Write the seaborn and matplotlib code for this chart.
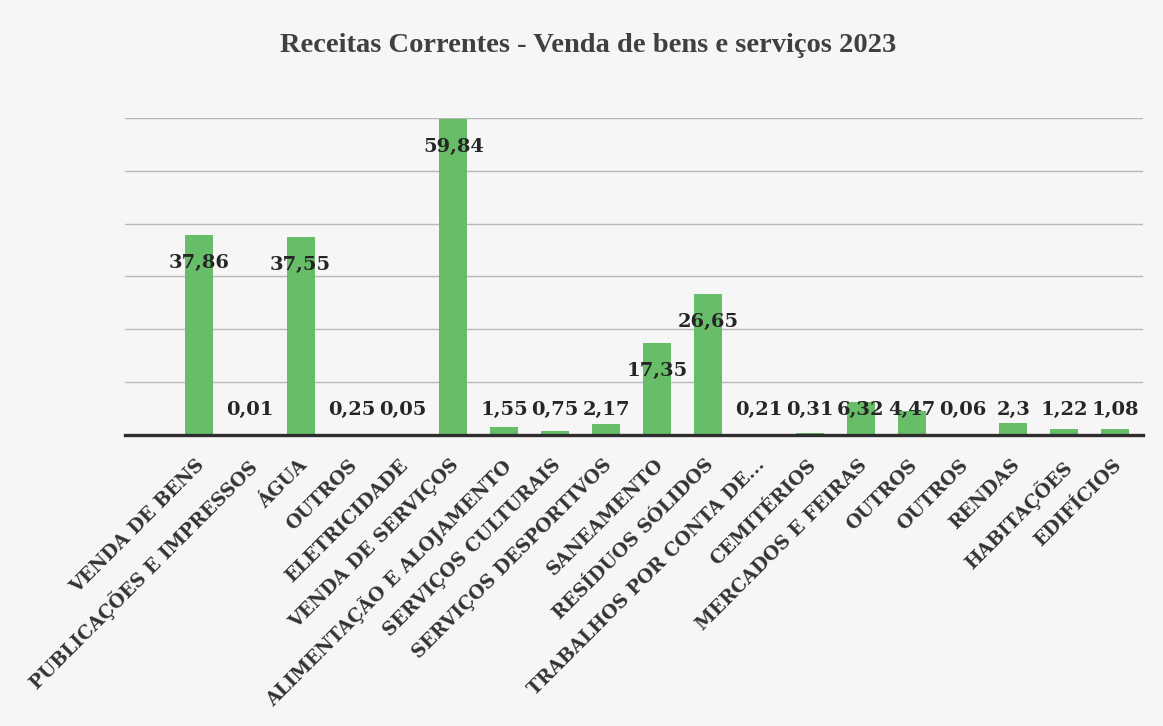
import matplotlib
matplotlib.use("Agg")
import matplotlib.pyplot as plt
import matplotlib.transforms as mtransforms
import seaborn as sns
import pandas as pd

title = "Receitas Correntes - Venda de bens e serviços 2023"
categories = [
    "VENDA DE BENS", "PUBLICAÇÕES E IMPRESSOS", "ÁGUA", "OUTROS", "ELETRICIDADE",
    "VENDA DE SERVIÇOS", "ALIMENTAÇÃO E ALOJAMENTO", "SERVIÇOS CULTURAIS",
    "SERVIÇOS DESPORTIVOS", "SANEAMENTO", "RESÍDUOS SÓLIDOS",
    "TRABALHOS POR CONTA DE...", "CEMITÉRIOS", "MERCADOS E FEIRAS", "OUTROS",
    "OUTROS", "RENDAS", "HABITAÇÕES", "EDIFÍCIOS",
]
values = [37.86, 0.01, 37.55, 0.25, 0.05, 59.84, 1.55, 0.75, 2.17, 17.35, 26.65,
          0.21, 0.31, 6.32, 4.47, 0.06, 2.3, 1.22, 1.08]
value_labels = ["37,86", "0,01", "37,55", "0,25", "0,05", "59,84", "1,55", "0,75",
                "2,17", "17,35", "26,65", "0,21", "0,31", "6,32", "4,47", "0,06",
                "2,3", "1,22", "1,08"]

sns.set_theme(style="white")
plt.rcParams["font.family"] = ["DejaVu Serif"]

bg = "#f6f6f6"
fig = plt.figure(figsize=(11.63, 7.26), dpi=100, facecolor=bg)
ax = fig.add_axes([0.1075, 0.4008, 0.8755, 0.4367])
ax.set_facecolor(bg)

df = pd.DataFrame({"pos": list(range(len(categories))), "valor": values})
sns.barplot(data=df, x="pos", y="valor", color="#68bd68", saturation=1,
            width=0.55, ax=ax, edgecolor="none")

ax.set_xlim(-1.45, 18.55)
ax.set_ylim(0, 60)
ax.set_yticks([10, 20, 30, 40, 50, 60])
ax.set_yticklabels([])
ax.tick_params(axis="y", length=0)
ax.yaxis.grid(True, color="#b8b8b8", linewidth=1.0)
ax.set_axisbelow(True)
for s in ["top", "right", "left"]:
    ax.spines[s].set_visible(False)
ax.spines["bottom"].set_color("#2e2e2e")
ax.spines["bottom"].set_linewidth(2.4)
ax.set_xlabel("")
ax.set_ylabel("")

ax.set_xticks(range(len(categories)))
ax.set_xticklabels(categories, rotation=45, fontsize=13.5, fontweight="bold",
                   color="#333333")
ax.tick_params(axis="x", length=0, pad=15)
offset = mtransforms.ScaledTranslation(-3 / 100, 0, fig.dpi_scale_trans)
for lab in ax.get_xticklabels():
    lab.set_ha("right")
    lab.set_va("top")
    lab.set_rotation_mode("anchor")
    lab.set_transform(lab.get_transform() + offset)

for i, (v, t) in enumerate(zip(values, value_labels)):
    ax.text(i, max(v - 5.3, 4.7), t, ha="center", va="center", fontsize=14,
            fontweight="bold", color="#262626", zorder=5)

fig.text(0.506, 0.938, title, ha="center", va="center", fontsize=20.5,
         fontweight="bold", color="#404040", family=["Liberation Serif"])

fig.savefig("out.png", dpi=100, facecolor=bg)
